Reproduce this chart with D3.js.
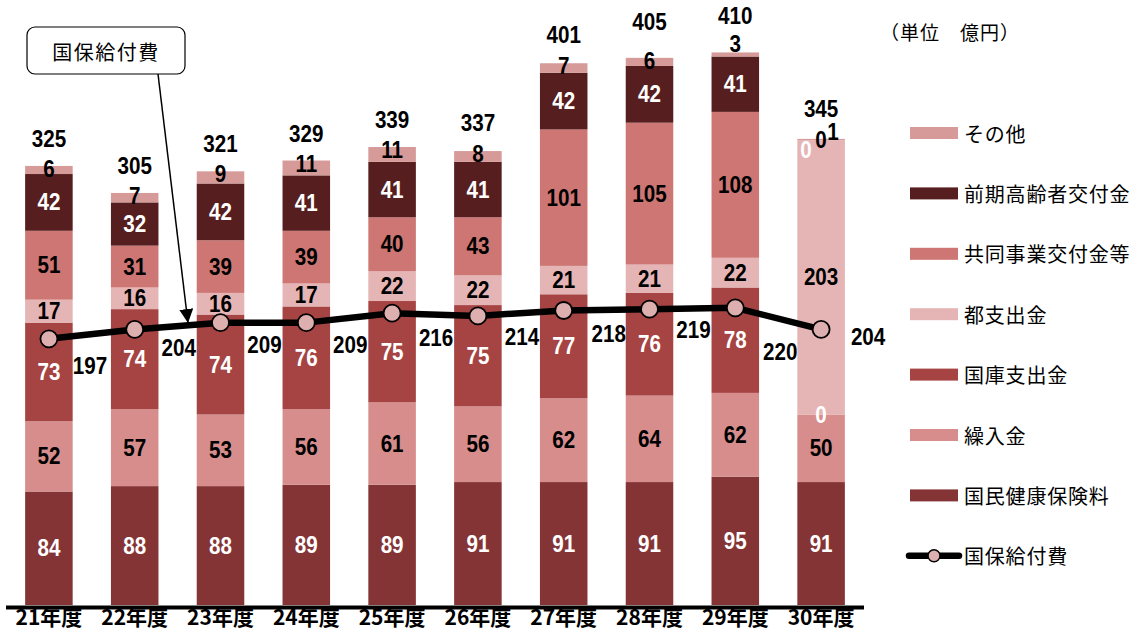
<!DOCTYPE html>
<html><head><meta charset="utf-8">
<script src="https://cdn.jsdelivr.net/npm/d3@7"></script>
<style>
body{margin:0;background:#fff;}
svg{display:block;}
</style></head>
<body>
<svg id="chart" width="1141" height="639"></svg>
<script>
const categories = ["21年度","22年度","23年度","24年度","25年度","26年度","27年度","28年度","29年度","30年度"];
const premiums   = [84, 88, 88, 89, 89, 91, 91, 91, 95, 91];   // 国民健康保険料
const transfers  = [52, 57, 53, 56, 61, 56, 62, 64, 62, 50];   // 繰入金
const national   = [73, 74, 74, 76, 75, 75, 77, 76, 78, 0];    // 国庫支出金
const metro      = [17, 16, 16, 17, 22, 22, 21, 21, 22, 203];  // 都支出金
const joint      = [51, 31, 39, 39, 40, 43, 101, 105, 108, 0]; // 共同事業交付金等
const earlyElder = [42, 32, 42, 41, 41, 41, 42, 42, 41, 0];    // 前期高齢者交付金
const others     = [6, 7, 9, 11, 11, 8, 7, 6, 3, 1];           // その他
const totals     = [325, 305, 321, 329, 339, 337, 401, 405, 410, 345];
const benefits   = [197, 204, 209, 209, 216, 214, 218, 219, 220, 204]; // 国保給付費

const seriesNames = ["国民健康保険料","繰入金","国庫支出金","都支出金","共同事業交付金等","前期高齢者交付金","その他"];
const seriesValues = [premiums, transfers, national, metro, joint, earlyElder, others];
const colors = ["#853436","#D68D8C","#A64443","#E5B4B4","#CD7673","#561E1E","#D69A99"];
const labelColors = ["#fff","#000","#fff","#000","#000","#fff","#000"];

const rows = categories.map((c,i)=>{
  const r = {cat:c};
  seriesNames.forEach((s,k)=> r[s]=seriesValues[k][i]);
  return r;
});

const svg = d3.select("#chart");
const numFont = "'Liberation Sans',Arial,sans-serif";
const jpFont = "'Noto Sans CJK JP','Noto Sans',sans-serif";

const x = d3.scaleBand().domain(categories).range([6,864]).paddingInner(0.446).paddingOuter(0.223);
const y = d3.scaleLinear().domain([0,400]).range([605, 605-540.4]);

const stack = d3.stack().keys(seriesNames)(rows);

function numText(px, py, txt, fill){
  svg.append("text").attr("transform",`translate(${px},${py}) scale(0.86,1)`)
    .attr("text-anchor","middle").attr("dominant-baseline","central")
    .attr("font-family",numFont).attr("font-weight","bold").attr("font-size",24)
    .attr("fill",fill).text(txt);
}

// bars
const g = svg.append("g");
stack.forEach((layer,k)=>{
  g.append("g").selectAll("rect").data(layer).join("rect")
    .attr("x", d=>x(d.data.cat))
    .attr("width", x.bandwidth())
    .attr("y", d=>y(d[1]))
    .attr("height", d=>y(d[0])-y(d[1]))
    .attr("fill", colors[k]);
});

// axis
const xAxis = d3.axisBottom(x).tickSize(0).tickPadding(8);
const ax = svg.append("g").attr("transform","translate(0,605)").call(xAxis);
ax.select(".domain").remove();
ax.append("line").attr("x1",6).attr("x2",864).attr("y1",2.5).attr("y2",2.5)
  .attr("stroke","#000").attr("stroke-width",4);
ax.selectAll(".tick text").attr("font-family",jpFont).attr("font-weight","bold")
  .attr("font-size",21).attr("fill","#000").attr("dy","0.55em");

// segment labels
const special = {
  "前期高齢者交付金|9": [-15, 10],
  "その他|9": [12, -10],
  "その他|8": [0, -11]
};
stack.forEach((layer,k)=>{
  const name = seriesNames[k];
  layer.forEach((d,i)=>{
    let px = x(d.data.cat)+x.bandwidth()/2;
    let py = (y(d[0])+y(d[1]))/2;
    if (name==="その他") py = y(d[1])+3;
    const sp = special[name+"|"+i];
    if (sp){ px += sp[0]; py += sp[1]; }
    numText(px, py, d.data[name], labelColors[k]);
  });
});

// totals
const totalDy = [-27,-27,-27,-27,-27,-27,-28,-36,-35,-30];
totals.forEach((t,i)=>{
  numText(x(categories[i])+x.bandwidth()/2, y(t)+totalDy[i], t, "#000");
});

// line
const cx = c=>x(c)+x.bandwidth()/2;
const line = d3.line().x((d,i)=>cx(categories[i])).y(d=>y(d));
svg.append("path").datum(benefits).attr("d",line).attr("fill","none")
  .attr("stroke","#000").attr("stroke-width",6.5).attr("stroke-linejoin","round");
svg.append("g").selectAll("circle").data(benefits).join("circle")
  .attr("cx",(d,i)=>cx(categories[i])).attr("cy",d=>y(d)).attr("r",8.5)
  .attr("fill","#DDB0AF").attr("stroke","#000").attr("stroke-width",1.8);
const lineDy = [27,19,22,22,25,21,23,21,44,8];
const lineDx = [41,44,44,44,44,44,45,44,45,47];
benefits.forEach((v,i)=>{
  numText(cx(categories[i])+lineDx[i], y(v)+lineDy[i], v, "#000");
});

// callout
svg.append("rect").attr("x",27).attr("y",27).attr("width",158).attr("height",47).attr("rx",8)
  .attr("fill","#fff").attr("stroke","#000").attr("stroke-width",1.2);
svg.append("text").attr("x",106).attr("y",51).attr("text-anchor","middle").attr("dominant-baseline","central")
  .attr("font-family",jpFont).attr("font-size",20).attr("letter-spacing",1.5).attr("fill","#000").text("国保給付費");
svg.append("defs").append("marker").attr("id","ah").attr("viewBox","0 0 10 10").attr("refX",10).attr("refY",5)
  .attr("markerWidth",14).attr("markerHeight",14).attr("markerUnits","userSpaceOnUse").attr("orient","auto")
  .append("path").attr("d","M0,0 L10,5 L0,10 Z").attr("fill","#000");
svg.append("line").attr("x1",158).attr("y1",74).attr("x2",188).attr("y2",323)
  .attr("stroke","#000").attr("stroke-width",1.5).attr("marker-end","url(#ah)");

// unit
svg.append("text").attr("x",880).attr("y",31).attr("dominant-baseline","central")
  .attr("font-family",jpFont).attr("font-size",19).attr("letter-spacing",1).attr("fill","#000").text("（単位　億円）");

// legend
const legendOrder = [6,5,4,3,2,1,0];
legendOrder.forEach((k,j)=>{
  const ly = 133 + j*60.4;
  svg.append("rect").attr("x",910).attr("y",ly-6).attr("width",48).attr("height",12).attr("fill",colors[k]);
  svg.append("text").attr("x",964).attr("y",ly).attr("dominant-baseline","central")
    .attr("font-family",jpFont).attr("font-size",20).attr("letter-spacing",0.8).attr("fill","#000").text(seriesNames[k]);
});
const ly = 133 + 7*60.4;
svg.append("line").attr("x1",909).attr("x2",959).attr("y1",ly).attr("y2",ly)
  .attr("stroke","#000").attr("stroke-width",6.5).attr("stroke-linecap","round");
svg.append("circle").attr("cx",934).attr("cy",ly).attr("r",6).attr("fill","#DDB0AF").attr("stroke","#000").attr("stroke-width",1.5);
svg.append("text").attr("x",964).attr("y",ly).attr("dominant-baseline","central")
  .attr("font-family",jpFont).attr("font-size",20).attr("letter-spacing",0.8).attr("fill","#000").text("国保給付費");
</script>
</body></html>
